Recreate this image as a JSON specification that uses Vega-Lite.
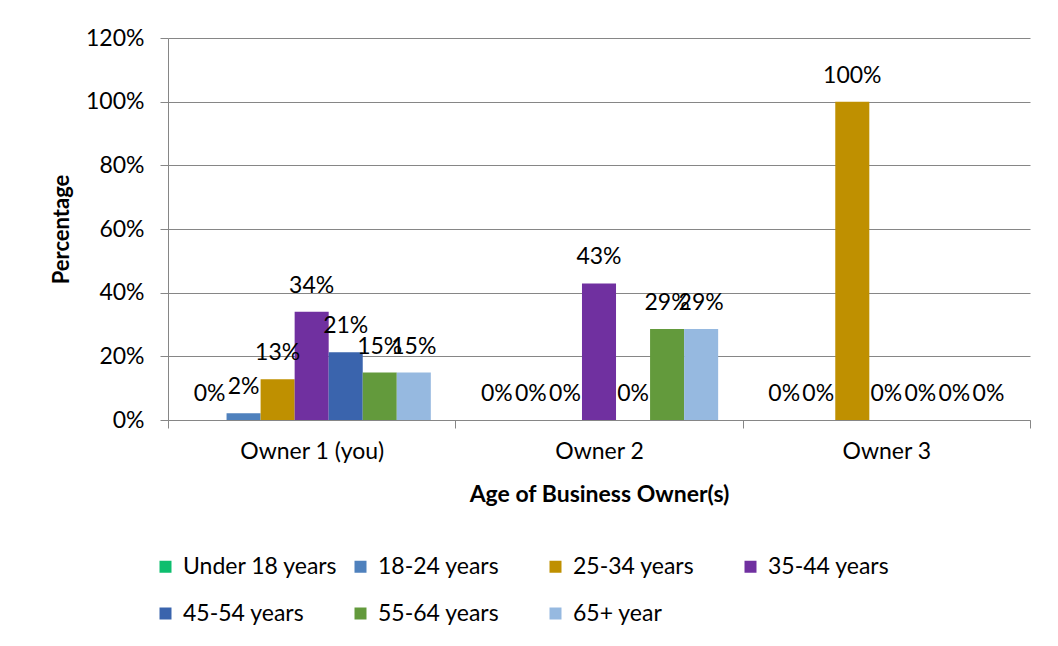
{
  "$schema": "https://vega.github.io/schema/vega-lite/v6.json",
  "width": 862,
  "height": 382,
  "autosize": {"type": "none"},
  "padding": {"left": 168, "top": 38, "right": 28, "bottom": 226},
  "background": "white",
  "config": {"font": "Lato", "view": {"stroke": null}},
  "data": {
    "values": [
      {"owner": "Owner 1 (you)", "age": "Under 18 years", "pct": 0},
      {"owner": "Owner 1 (you)", "age": "18-24 years", "pct": 0.021},
      {"owner": "Owner 1 (you)", "age": "25-34 years", "pct": 0.128},
      {"owner": "Owner 1 (you)", "age": "35-44 years", "pct": 0.34},
      {"owner": "Owner 1 (you)", "age": "45-54 years", "pct": 0.213},
      {"owner": "Owner 1 (you)", "age": "55-64 years", "pct": 0.149},
      {"owner": "Owner 1 (you)", "age": "65+ year", "pct": 0.149},
      {"owner": "Owner 2", "age": "Under 18 years", "pct": 0},
      {"owner": "Owner 2", "age": "18-24 years", "pct": 0},
      {"owner": "Owner 2", "age": "25-34 years", "pct": 0},
      {"owner": "Owner 2", "age": "35-44 years", "pct": 0.429},
      {"owner": "Owner 2", "age": "45-54 years", "pct": 0},
      {"owner": "Owner 2", "age": "55-64 years", "pct": 0.286},
      {"owner": "Owner 2", "age": "65+ year", "pct": 0.286},
      {"owner": "Owner 3", "age": "Under 18 years", "pct": 0},
      {"owner": "Owner 3", "age": "18-24 years", "pct": 0},
      {"owner": "Owner 3", "age": "25-34 years", "pct": 1.0},
      {"owner": "Owner 3", "age": "35-44 years", "pct": 0},
      {"owner": "Owner 3", "age": "45-54 years", "pct": 0},
      {"owner": "Owner 3", "age": "55-64 years", "pct": 0},
      {"owner": "Owner 3", "age": "65+ year", "pct": 0}
    ]
  },
  "encoding": {
    "x": {
      "field": "owner", "type": "nominal",
      "sort": ["Owner 1 (you)", "Owner 2", "Owner 3"],
      "scale": {"paddingInner": 0, "paddingOuter": 0},
      "axis": {
        "title": "Age of Business Owner(s)",
        "titleFontSize": 23, "titleFontWeight": "bold", "titleColor": "black", "titlePadding": 20,
        "labelFontSize": 23, "labelColor": "black", "labelPadding": 12, "labelAngle": 0,
        "tickBand": "extent", "tickSize": 8, "tickColor": "#868686", "domainColor": "#868686",
        "grid": false
      }
    },
    "xOffset": {
      "field": "age", "type": "nominal",
      "sort": ["Under 18 years", "18-24 years", "25-34 years", "35-44 years", "45-54 years", "55-64 years", "65+ year"],
      "scale": {"paddingInner": 0, "paddingOuter": 0.72}
    },
    "y": {
      "field": "pct", "type": "quantitative",
      "scale": {"domain": [0, 1.2], "nice": false},
      "axis": {
        "title": "Percentage", "format": ".0%",
        "values": [0, 0.2, 0.4, 0.6, 0.8, 1.0, 1.2],
        "titleFontSize": 22, "titleFontWeight": "bold", "titleColor": "black", "titlePadding": 12,
        "labelFontSize": 23, "labelColor": "black", "labelPadding": 16,
        "tickSize": 8, "tickColor": "#868686", "domainColor": "#868686",
        "gridColor": "#868686", "gridWidth": 1
      }
    }
  },
  "layer": [
    {
      "mark": {"type": "bar"},
      "encoding": {
        "color": {
          "field": "age", "type": "nominal",
          "sort": ["Under 18 years", "18-24 years", "25-34 years", "35-44 years", "45-54 years", "55-64 years", "65+ year"],
          "scale": {
            "domain": ["Under 18 years", "18-24 years", "25-34 years", "35-44 years", "45-54 years", "55-64 years", "65+ year"],
            "range": ["#0DBE6E", "#4F81BD", "#BF9000", "#7030A0", "#3A64AD", "#639A3C", "#96B9E0"]
          },
          "legend": {
            "title": null, "orient": "none", "legendX": -14, "legendY": 517,
            "direction": "horizontal", "columns": 4, "gridAlign": "all",
            "columnPadding": 11, "rowPadding": 23,
            "labelFontSize": 23, "labelColor": "black",
            "symbolType": "square", "symbolSize": 144, "symbolStrokeWidth": 0, "symbolOffset": 0, "labelOffset": 6
          }
        }
      }
    },
    {
      "mark": {"type": "text", "baseline": "bottom", "dy": -14, "fontSize": 23, "color": "black"},
      "encoding": {"text": {"field": "pct", "type": "quantitative", "format": ".0%"}}
    }
  ]
}
